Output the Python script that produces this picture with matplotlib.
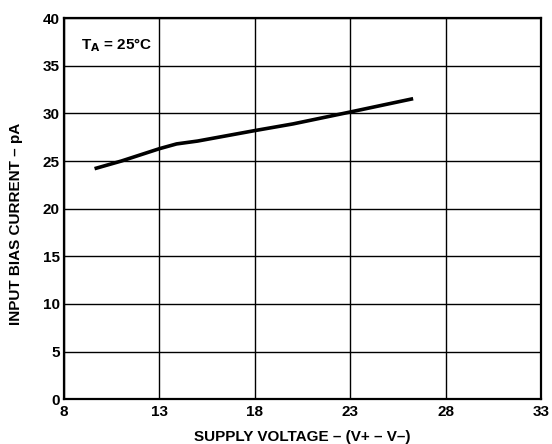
import matplotlib
matplotlib.use('Agg')
import matplotlib.pyplot as plt

plt.rcParams['font.family'] = ['Liberation Sans', 'DejaVu Sans']
plt.rcParams['font.weight'] = 'bold'

# curve
supply_v = [9.6, 11.0, 13.0, 13.9, 15.0, 18.0, 20.0, 23.0, 25.0, 26.3]
bias_pa = [24.2, 25.0, 26.3, 26.8, 27.1, 28.2, 28.9, 30.15, 31.0, 31.55]

x_ticks = [8, 13, 18, 23, 28, 33]
y_ticks = [0, 5, 10, 15, 20, 25, 30, 35, 40]

fig = plt.figure(figsize=(5.52, 4.44), dpi=100)
ax = fig.add_axes([0.116, 0.101, 0.864, 0.858])

ax.plot(supply_v, bias_pa, color='black', linewidth=2.6, solid_capstyle='butt')

ax.set_xlim(8, 33)
ax.set_ylim(0, 40)
ax.set_xticks(x_ticks)
ax.set_yticks(y_ticks)
ax.grid(True, color='black', linewidth=1.0)
ax.tick_params(length=0, labelsize=11, pad=3)
ax.tick_params(axis='x', pad=4)
for s in ax.spines.values():
    s.set_linewidth(1.6)

ax.set_xlabel('SUPPLY VOLTAGE – (V+ – V–)', fontsize=11, fontweight='bold')
ax.set_ylabel('INPUT BIAS CURRENT – pA', fontsize=11, fontweight='bold')
ax.xaxis.set_label_coords(0.5, -0.08)
ax.yaxis.set_label_coords(-0.085, 0.459)
ax.text(0.035, 0.93, r'T$_{\mathbf{A}}$ = 25°C', transform=ax.transAxes,
        fontsize=11, fontweight='bold', va='center')

fig.savefig('out.png', dpi=100)
